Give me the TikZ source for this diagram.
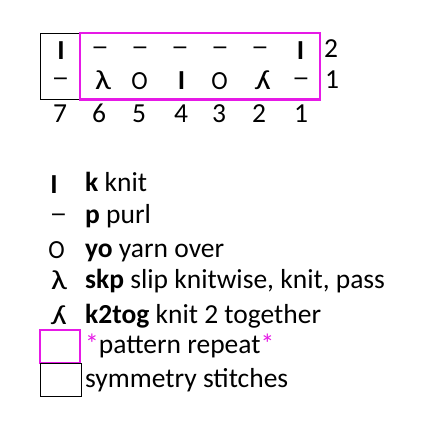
\documentclass[tikz,border=0pt]{standalone}
\usepackage{fontspec}
\setmainfont{Carlito}
\usepackage{graphicx}
\usepackage{tikz}
\usetikzlibrary{positioning}
\definecolor{RepeatPink}{RGB}{230,25,230}
\tikzset{every node/.style={font=\fontsize{27.5}{33}\selectfont,inner sep=0pt},
  stitch/.style={anchor=center},
  dashmark/.style={anchor=north},
  keyline/.style={anchor=base west},
  repeatframe/.style={RepeatPink,line width=2.8pt},
  symframe/.style={line width=0.9pt}}
% stitch symbols
\newcommand{\kI}{\textbf{I}}
\newcommand{\kP}{\scalebox{1.3}[1]{–}}
\newcommand{\kO}{\scalebox{0.9}[0.95]{O}}
\newcommand{\kSkp}{\scalebox{1.25}[1]{λ}}
\newcommand{\kTwoTog}{\reflectbox{\kSkp}}

\begin{document}
\begin{tikzpicture}[x=1pt,y=1pt]
  \useasboundingbox[fill=white] (0,0) rectangle (441,-430);
  % --- chart frames ---
  \draw[symframe] (40.5,-33) rectangle (80,-99);
  \draw[repeatframe] (80,-33) rectangle (320,-99.5);
  % --- row 2 ---
  \node[stitch] (rtwo7) at (61,-50.5) {\kI};
  \foreach \c/\x in {6/100,5/140,4/180,3/220,2/260}
    \node[dashmark] (rtwo\c) at (\x,-47) {\kP};
  \node[stitch] (rtwo1) at (300.5,-50.5) {\kI};
  % --- row 1 ---
  \node[dashmark] (rone7) at (60.5,-78) {\kP};
  \node[stitch] (rone6) at (103,-80.5) {\kSkp};
  \node[stitch] (rone5) at (139.5,-81) {\kO};
  \node[stitch] (rone4) at (181.5,-81) {\kI};
  \node[stitch] (rone3) at (219.5,-81) {\kO};
  \node[stitch] (rone2) at (263,-80.5) {\kTwoTog};
  \node[dashmark] (rone1) at (301,-78) {\kP};
  % --- row and column numbers ---
  \node[anchor=base] (rowtwo) at (331,-58) {2};
  \node[anchor=base] (rowone) at (332,-89) {1};
  \foreach \c/\x in {7/60,6/99,5/139,4/181,3/219,2/259,1/301}
    \node[anchor=base] (col\c) at (\x,-123) {\c};
  % --- key ---
  \node[stitch] (symk) at (54,-184.5) {\kI};
  \node[keyline] (keyk) at (85,-192) {\textbf{k} knit};
  \node[dashmark] (symp) at (58.5,-214) {\kP};
  \node[keyline] (keyp) at (85,-223) {\textbf{p} purl};
  \node[stitch] (symyo) at (56.5,-250.5) {\kO};
  \node[keyline] (keyyo) at (85,-257) {\textbf{yo} yarn over};
  \node[stitch] (symskp) at (59,-280) {\kSkp};
  \node[keyline] (keyskp) at (85,-288) {\textbf{skp} slip knitwise, knit, pass};
  \node[stitch] (symktog) at (59,-315) {\kTwoTog};
  \node[keyline] (keyktog) at (85,-323) {\textbf{k2tog} knit 2 together};
  \draw[repeatframe] (40,-330) rectangle (80,-363);
  \node[keyline] (keyrep) at (85,-353) {{\color{RepeatPink}*}pattern repeat{\color{RepeatPink}*}};
  \draw[symframe] (40,-363) rectangle (81,-396);
  \node[keyline] (keysym) at (85,-387) {symmetry stitches};
\end{tikzpicture}
\end{document}
